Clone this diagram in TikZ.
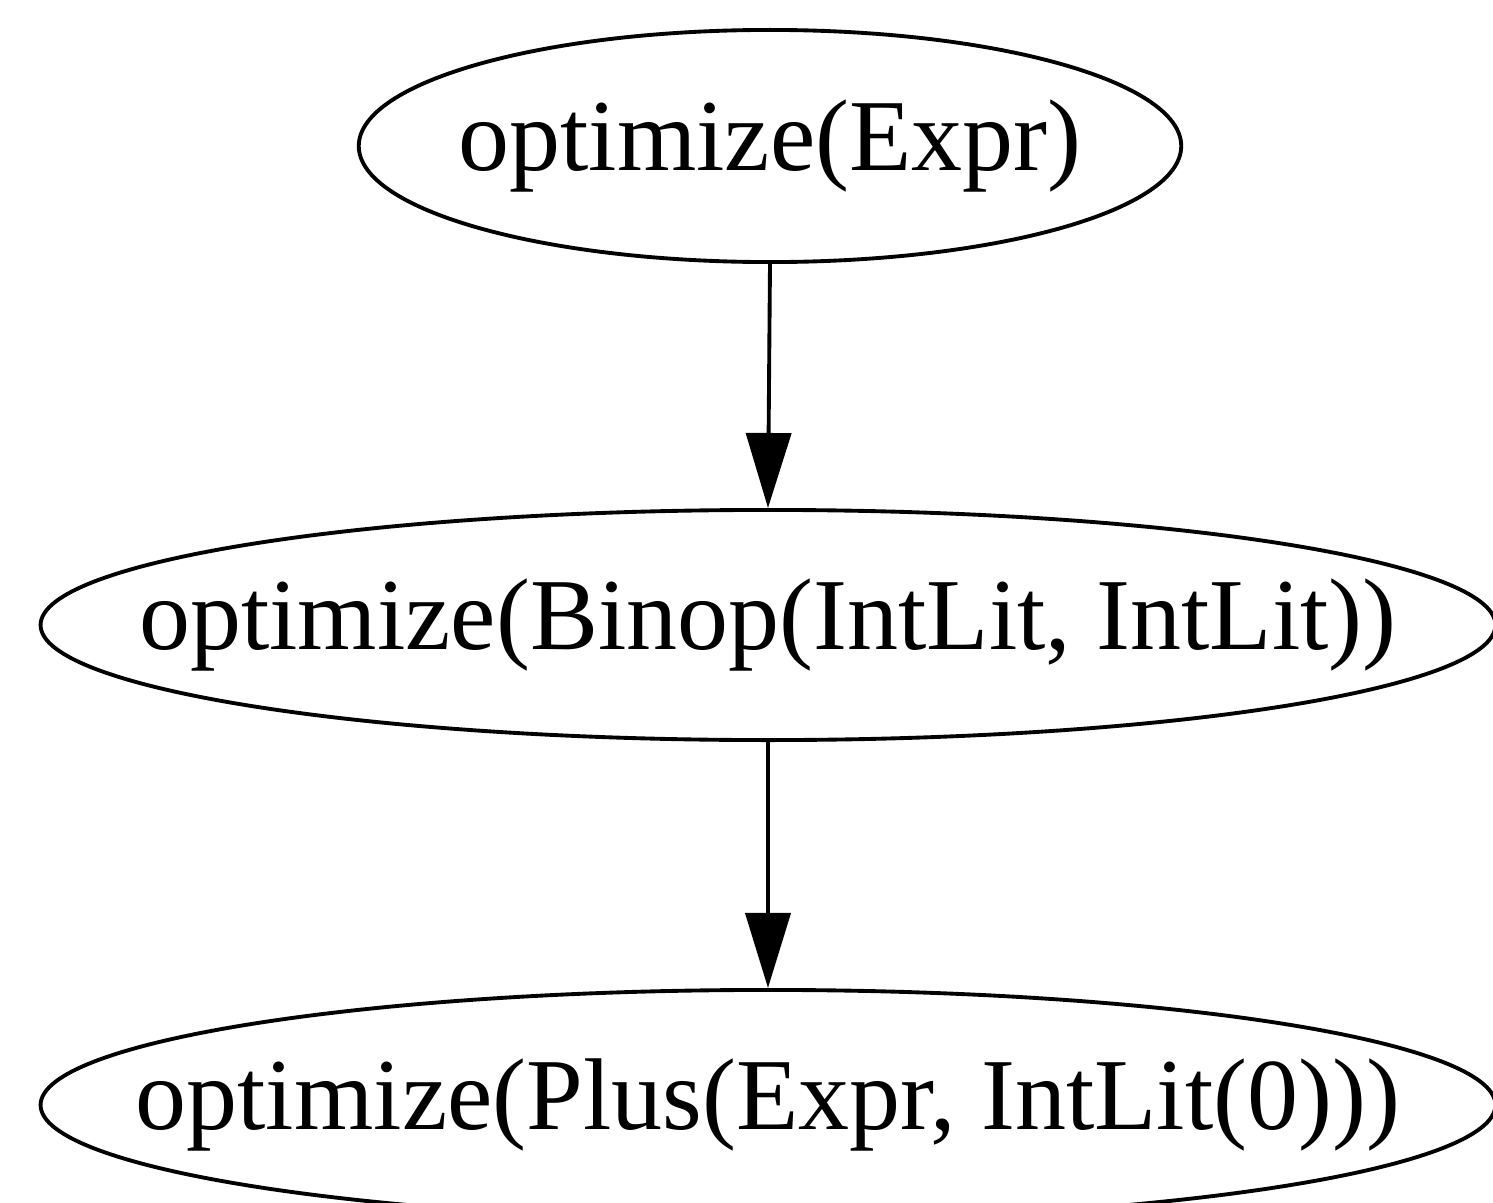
\documentclass[tikz,border=0pt]{standalone}
\usepackage{fontspec}
\setmainfont{Liberation Serif}
\usetikzlibrary{shapes.geometric,arrows.meta}
\begin{document}
\begin{tikzpicture}[x=0.01cm,y=-0.01cm,
  oval/.style={draw,ellipse,line width=1.1pt,inner sep=0pt,font=\fontsize{29}{35}\selectfont},
  edge/.style={line width=1.1pt,-{Triangle[length=0.75cm,width=0.45cm]}}]
\clip (0,0) rectangle (1493,1203);
\fill[white] (0,0) rectangle (1493,1203);
\node[oval,minimum width=8.22cm,minimum height=2.32cm] (a) at (770,146) {\makebox[0pt]{optimize(Expr)}};
\node[oval,minimum width=14.54cm,minimum height=2.30cm] (b) at (768,625) {\makebox[0pt]{optimize(Binop(IntLit, IntLit))}};
\node[oval,minimum width=14.54cm,minimum height=2.30cm] (c) at (768,1105) {\makebox[0pt]{optimize(Plus(Expr, IntLit(0)))}};
\draw[edge] (a.south) -- (b.north);
\draw[edge] (b.south) -- (c.north);
\end{tikzpicture}
\end{document}
